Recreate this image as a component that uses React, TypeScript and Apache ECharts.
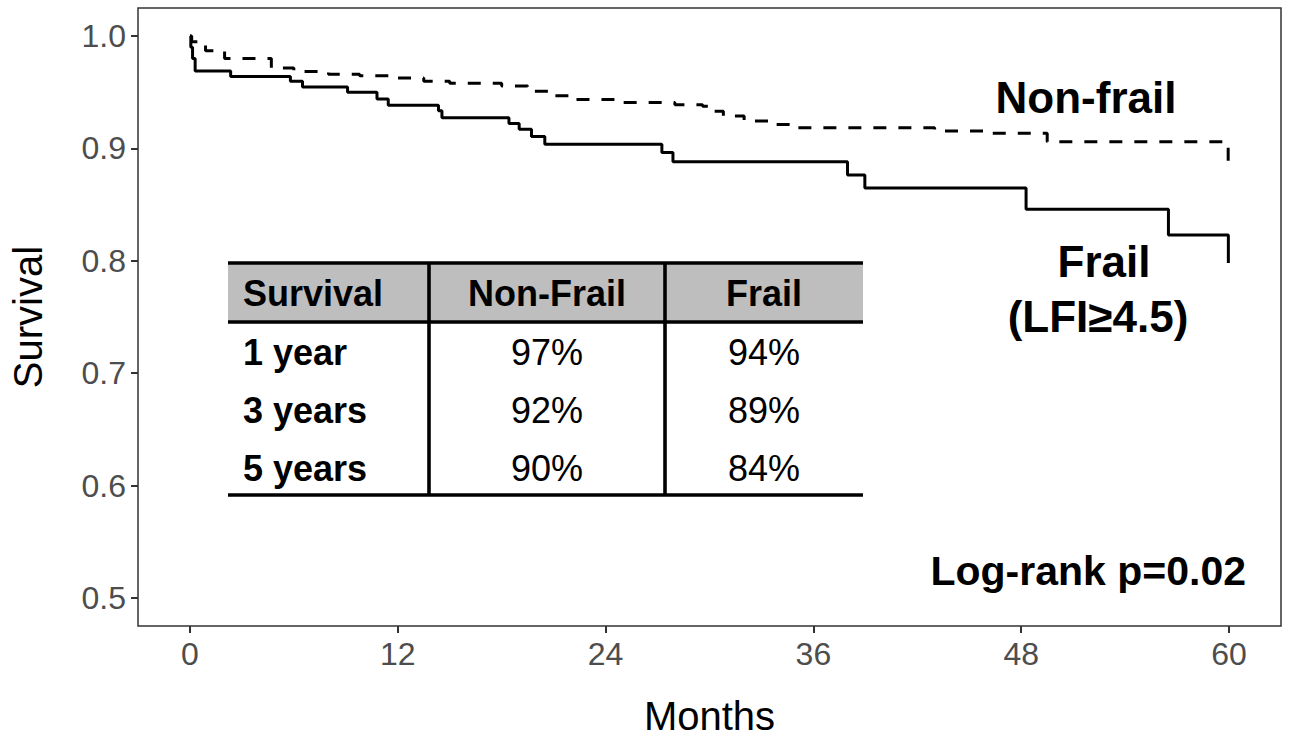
import React, { useEffect, useRef } from "react";
import * as echarts from "echarts";

const FONT = "'Liberation Sans', Arial, sans-serif";

// Kaplan-Meier step data (time in months, survival probability from that time on)
const frailTimes = [0, 0.05, 0.15, 0.3, 2.35, 5.8, 6.5, 9.1, 10.8, 11.45, 14.35, 14.55, 18.42, 19.01, 19.72, 20.49, 27.25, 27.89, 37.97, 38.97, 48.28, 56.5, 59.96, 60];
const frailSurv = [1.0, 0.99, 0.98, 0.969, 0.964, 0.9597, 0.9547, 0.95, 0.944, 0.9385, 0.9335, 0.9274, 0.9223, 0.917, 0.9106, 0.9038, 0.8965, 0.8882, 0.8764, 0.8647, 0.8458, 0.8229, 0.798, 0.798];

const nonFrailTimes = [0, 0.1, 0.9, 2.0, 4.7, 6.0, 8.0, 9.8, 11.5, 13.5, 15.0, 18.0, 19.5, 21.0, 22.3, 25.0, 28.0, 29.6, 30.2, 30.8, 32.0, 33.5, 35.0, 43.0, 46.0, 49.5, 59.95, 60];
const nonFrailSurv = [1.0, 0.995, 0.987, 0.98, 0.9715, 0.9685, 0.966, 0.9647, 0.9627, 0.9597, 0.958, 0.9555, 0.951, 0.947, 0.9435, 0.941, 0.939, 0.9376, 0.933, 0.9288, 0.9244, 0.9214, 0.9185, 0.9155, 0.9135, 0.906, 0.888, 0.888];

const xTicks = [0, 12, 24, 36, 48, 60];
const yTicks = [0.5, 0.6, 0.7, 0.8, 0.9, 1.0];

// Inset table
const tableHeader = ["Survival", "Non-Frail", "Frail"];
const tableRowLabels = ["1 year", "3 years", "5 years"];
const tableNonFrail = ["97%", "92%", "90%"];
const tableFrail = ["94%", "89%", "84%"];

const pLabel = "Log-rank p=0.02";

function buildTable(): any[] {
  const left = 228, right = 863, c1 = 429, c2 = 665;
  const top = 263, headBottom = 322, bottom = 495;
  const headY = 293;
  const rowY = [352, 410, 468];
  const els: any[] = [];
  els.push({ type: "rect", shape: { x: left, y: top, width: right - left, height: headBottom - top }, style: { fill: "#bebebe" }, silent: true });
  const lw = 3.6;
  els.push({ type: "line", shape: { x1: left, y1: top, x2: right, y2: top }, style: { stroke: "#000", lineWidth: lw } });
  els.push({ type: "line", shape: { x1: left, y1: headBottom, x2: right, y2: headBottom }, style: { stroke: "#000", lineWidth: lw } });
  els.push({ type: "line", shape: { x1: left, y1: bottom, x2: right, y2: bottom }, style: { stroke: "#000", lineWidth: lw } });
  els.push({ type: "line", shape: { x1: c1, y1: top, x2: c1, y2: bottom }, style: { stroke: "#000", lineWidth: lw } });
  els.push({ type: "line", shape: { x1: c2, y1: top, x2: c2, y2: bottom }, style: { stroke: "#000", lineWidth: lw } });
  const colX = [243, (c1 + c2) / 2, (c2 + right) / 2];
  const aligns = ["left", "center", "center"];
  tableHeader.forEach((h, i) => {
    els.push({ type: "text", x: colX[i], y: headY, style: { text: h, font: `bold 36px ${FONT}`, fill: "#000", align: aligns[i], verticalAlign: "middle" } });
  });
  tableRowLabels.forEach((r, i) => {
    els.push({ type: "text", x: colX[0], y: rowY[i], style: { text: r, font: `bold 36px ${FONT}`, fill: "#000", align: "left", verticalAlign: "middle" } });
    els.push({ type: "text", x: colX[1], y: rowY[i], style: { text: tableNonFrail[i], font: `36px ${FONT}`, fill: "#000", align: "center", verticalAlign: "middle" } });
    els.push({ type: "text", x: colX[2], y: rowY[i], style: { text: tableFrail[i], font: `36px ${FONT}`, fill: "#000", align: "center", verticalAlign: "middle" } });
  });
  return els;
}

export default function App() {
  const ref = useRef<HTMLDivElement>(null);
  useEffect(() => {
    if (!ref.current) return;
    const chart = echarts.init(ref.current, undefined, { renderer: "svg" });
    const frailData = frailTimes.map((t, i) => [t, frailSurv[i]]);
    const nonFrailData = nonFrailTimes.map((t, i) => [t, nonFrailSurv[i]]);
    const option: any = {
      animation: false,
      backgroundColor: "#ffffff",
      grid: { left: 136, right: 8, top: 8, bottom: 112, show: true, borderColor: "#333333", borderWidth: 1.5, backgroundColor: "transparent" },
      xAxis: {
        type: "value",
        min: -3,
        max: 63,
        name: "Months",
        nameLocation: "middle",
        nameGap: 70,
        nameTextStyle: { fontFamily: FONT, fontSize: 40, color: "#000" },
        axisLine: { show: false, onZero: false },
        splitLine: { show: false },
        axisTick: { show: true, customValues: xTicks, length: 7, lineStyle: { color: "#333333", width: 2 } },
        axisLabel: { customValues: xTicks, margin: 12, fontFamily: FONT, fontSize: 32, color: "#4d4d4d", formatter: (v: number) => String(v) },
      },
      yAxis: {
        type: "value",
        min: 0.475,
        max: 1.025,
        name: "Survival",
        nameLocation: "middle",
        nameGap: 90,
        nameTextStyle: { fontFamily: FONT, fontSize: 40, color: "#000" },
        axisLine: { show: false, onZero: false },
        splitLine: { show: false },
        axisTick: { show: true, customValues: yTicks, length: 7, lineStyle: { color: "#333333", width: 2 } },
        axisLabel: { customValues: yTicks, margin: 12, fontFamily: FONT, fontSize: 32, color: "#4d4d4d", formatter: (v: number) => v.toFixed(1) },
      },
      series: [
        {
          name: "Non-frail",
          type: "line",
          step: "end",
          data: nonFrailData,
          showSymbol: false,
          lineStyle: { color: "#000", width: 3, type: [13, 12], cap: "butt" },
        },
        {
          name: "Frail",
          type: "line",
          step: "end",
          data: frailData,
          showSymbol: false,
          lineStyle: { color: "#000", width: 3, type: "solid" },
        },
      ],
      graphic: [
        { type: "text", x: 1086, y: 97, style: { text: "Non-frail", font: `bold 44px ${FONT}`, fill: "#000", align: "center", verticalAlign: "middle" } },
        { type: "text", x: 1104, y: 261, style: { text: "Frail", font: `bold 44px ${FONT}`, fill: "#000", align: "center", verticalAlign: "middle" } },
        { type: "text", x: 1098, y: 316, style: { text: "(LFI≥4.5)", font: `bold 44px ${FONT}`, fill: "#000", align: "center", verticalAlign: "middle" } },
        { type: "text", x: 1246, y: 571, style: { text: pLabel, font: `bold 41px ${FONT}`, fill: "#000", align: "right", verticalAlign: "middle" } },
        ...buildTable(),
      ],
    };
    chart.setOption(option);
    return () => chart.dispose();
  }, []);
  return <div ref={ref} style={{ position: "absolute", left: 0, top: 0, width: 1289, height: 741 }} />;
}
